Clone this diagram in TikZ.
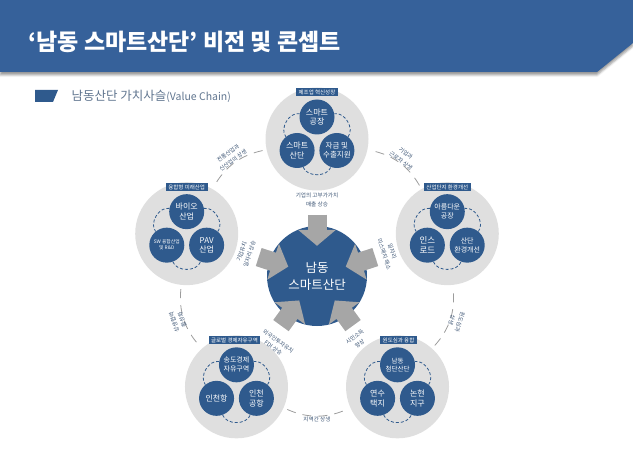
\documentclass[tikz,border=0pt]{standalone}
\usepackage{fontspec}
\setmainfont{Noto Sans CJK KR}
\usepackage{tikz}
\usetikzlibrary{calc, arrows.meta, shadows.blur}

\definecolor{bandblue}{HTML}{36619A}
\definecolor{hubblue}{HTML}{2F5A8D}
\definecolor{ringgray}{HTML}{DFDFDF}
\definecolor{arrowgray}{HTML}{A6A6A6}
\definecolor{linkgray}{HTML}{9C9C9C}
\definecolor{notecol}{HTML}{3E5675}
\definecolor{subcol}{HTML}{60758F}
\newcommand{\fs}[2]{\fontsize{#1}{#2}\selectfont}

\begin{document}
\begin{tikzpicture}[x=1pt, y=1pt,
  sat/.style={circle, fill=ringgray, minimum size=103pt, inner sep=0pt},
  unit/.style={circle, fill=hubblue, minimum size=35pt, inner sep=0pt, text=white, align=center, font=\fs{8}{9.5}},
  tag/.style={fill=hubblue, text=white, inner xsep=2.5pt, inner ysep=1.6pt, font=\fs{5.5}{6.5}},
  note/.style={text=notecol, align=center, inner sep=0pt, font=\fs{5.6}{8.4}},
  push/.style={draw=arrowgray, line width=19pt, -{Triangle[length=16pt, width=37pt]}, shorten <=24pt, shorten >=-20pt},
  link/.style={draw=linkgray, line width=0.8pt, dash pattern=on 9pt off 7pt, shorten <=4pt, shorten >=4pt},
  ring/.style={draw=hubblue, line width=0.8pt, dash pattern=on 3pt off 2pt}]
 \useasboundingbox (0,0) rectangle (633,475);
 \fill[bandblue, blur shadow={shadow xshift=0pt, shadow yshift=-3pt}] (0,475) -- (633,475) -- (633,432) -- (597,403) -- (0,403) -- cycle;
 \node (title) [anchor=west, text=white, font=\bfseries\fs{23}{26}] at (25,433) {‘남동 스마트산단’ 비전 및 콘셉트};
 \fill[hubblue] (35,385) -- (58,385) -- (53,373) -- (35,373) -- cycle;
 \node (subtitle) [anchor=west, text=subcol] at (68,379) {{\fs{12.5}{14}남동산단 가치사슬}{\fs{10.5}{12}(Value Chain)}};

 \node (hub) [circle, fill=hubblue, minimum size=100pt, text=white, align=center, font=\fs{12.5}{17}] at (317,199) {남동\\스마트산단};

 \node (mfg) [sat] at ($(hub)+(90:137)$) {};
 \node (fusion) [sat] at ($(hub)+(162:137)$) {};
 \node (green) [sat] at ($(hub)+(18:137)$) {};
 \node (global) [sat] at ($(hub)+(234:137)$) {};
 \node (urban) [sat] at ($(hub)+(306:137)$) {};

 \draw[link] (mfg) to[bend right=24] (fusion);
 \draw[link] (fusion) to[bend right=24] (global);
 \draw[link] (global) to[bend right=24] (urban);
 \draw[link] (urban) to[bend right=24] (green);
 \draw[link] (green) to[bend right=24] (mfg);
 \node (link-a) [note, rotate=36] at ($(hub)+(126:147)$) {전통산업과\\신산업의 상생};
 \node (link-b) [note, rotate=-36] at ($(hub)+(54:147)$) {기업과\\근로자 상생};
 \node (link-c) [note, rotate=108] at ($(hub)+(198:146)$) {상생협력\\활성화};
 \node (link-d) [note, rotate=-108] at ($(hub)+(342:146)$) {원도심과\\상생};
 \node (link-e) [note] at ($(hub)+(270:143)$) {지역간 상생};

 \node (mfg-tag) [tag] at ($(mfg.north)+(0,-5)$) {제조업 혁신성장};
 \node (fusion-tag) [tag] at ($(fusion.north)+(0,-5)$) {융합형 미래산업};
 \node (green-tag) [tag] at ($(green.north)+(0,-5)$) {산업단지 환경개선};
 \node (global-tag) [tag] at ($(global.north)+(-2,-5)$) {글로벌 경제자유구역};
 \node (urban-tag) [tag] at ($(urban.north)+(1,-5)$) {원도심과 융합};

 \node (mfg-a) [unit] at ($(mfg)+(90:22)$) {스마트\\공장};
 \node (mfg-b) [unit] at ($(mfg)+(210:23)$) {스마트\\산단};
 \node (mfg-c) [unit, font=\fs{7.5}{9}] at ($(mfg)+(330:23)$) {자금 및\\수출지원};
 \node (fusion-a) [unit] at ($(fusion)+(90:22)$) {바이오\\산업};
 \node (fusion-b) [unit, font=\fs{4.8}{6}] at ($(fusion)+(210:23)$) {SW 융합산업\\및 R\&D};
 \node (fusion-c) [unit] at ($(fusion)+(330:23)$) {PAV\\산업};
 \node (green-a) [unit, font=\fs{7}{9}] at ($(green)+(90:22)$) {아름다운\\공장};
 \node (green-b) [unit, font=\fs{8.5}{10}] at ($(green)+(210:23)$) {인스\\로드};
 \node (green-c) [unit, font=\fs{7}{9}] at ($(green)+(330:23)$) {산단\\환경개선};
 \node (global-a) [unit, font=\fs{7}{9}] at ($(global)+(90:22)$) {송도경제\\자유구역};
 \node (global-b) [unit] at ($(global)+(210:23)$) {인천항};
 \node (global-c) [unit] at ($(global)+(330:23)$) {인천\\공항};
 \node (urban-a) [unit, font=\fs{6.5}{8.5}] at ($(urban)+(90:22)$) {남동\\첨단산단};
 \node (urban-b) [unit] at ($(urban)+(210:23)$) {연수\\택지};
 \node (urban-c) [unit] at ($(urban)+(330:23)$) {논현\\지구};

 \foreach \s in {mfg, fusion, green, global, urban} {
  \draw[ring] (\s-a) to[bend right=70] (\s-b);
  \draw[ring] (\s-b) to[bend right=70] (\s-c);
  \draw[ring] (\s-c) to[bend right=70] (\s-a);
  \draw[push] (\s) -- (hub);
 }
 \node (mfg-note) [note] at ($(hub)+(90:76)$) {기업의 고부가가치\\매출 상승};
 \node (fusion-note) [note, rotate=72] at ($(hub)+(162:75)$) {기업유치\\일자리 상승};
 \node (green-note) [note, rotate=-72] at ($(hub)+(18:75)$) {일자리\\미스매치 해소};
 \node (global-note) [note, rotate=-36] at ($(hub)+(239:80)$) {외국인투자유치\\FDI 상승};
 \node (urban-note) [note, rotate=36] at ($(hub)+(302:76)$) {시민소득\\향상};
\end{tikzpicture}
\end{document}
